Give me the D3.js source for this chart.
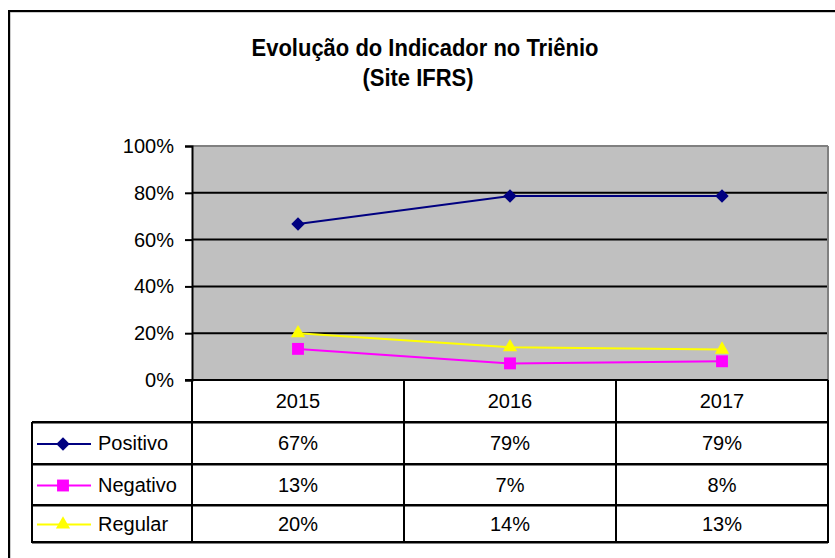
<!DOCTYPE html>
<html>
<head>
<meta charset="utf-8">
<script src="https://cdn.jsdelivr.net/npm/d3@7"></script>
<style>
  html, body { margin: 0; padding: 0; background: #fff; }
  svg { display: block; }
  text { font-family: "Liberation Sans", Arial, sans-serif; fill: #000; }
</style>
</head>
<body>
<svg id="chart" width="835" height="558"></svg>
<script>
// ---- data ----
const titleLines = ["Evolução do Indicador no Triênio", "(Site IFRS)"];
const years = ["2015", "2016", "2017"];
const seriesNames = ["Positivo", "Negativo", "Regular"];
const positivo = [0.667, 0.786, 0.786];
const negativo = [0.133, 0.071, 0.08];
const regular = [0.20, 0.14, 0.13];
const yTicks = [0, 0.2, 0.4, 0.6, 0.8, 1.0];

// ---- styles per series ----
const seriesColors = ["#000080", "#ff00ff", "#ffff00"];
const seriesSymbols = [d3.symbolDiamond2, d3.symbolSquare2, d3.symbolTriangle2];
const seriesSizes = [115, 180, 145];
const seriesData = [positivo, negativo, regular];

const svg = d3.select("#chart");

// layout
const plot = { left: 192, right: 828, top: 146, bottom: 380 };
const tableLeft = 32;
const rowEdges = [380, 422, 464, 505, 542];

const x = d3.scaleBand().domain(years).range([plot.left, plot.right]);
const y = d3.scaleLinear().domain([0, 1]).range([plot.bottom, plot.top]);
const fmt = d3.format(".0%");

// outer chart border (right/bottom lie outside the visible window)
svg.append("rect").attr("x", 10).attr("y", 12).attr("width", 900).attr("height", 600)
  .attr("fill", "none").attr("stroke", "#999").attr("stroke-width", 1);
svg.append("rect").attr("x", 9).attr("y", 11).attr("width", 900).attr("height", 600)
  .attr("fill", "none").attr("stroke", "#000").attr("stroke-width", 2);

// title
titleLines.forEach((t, i) => {
  const cx = i === 0 ? 425 : 418;
  const by = i === 0 ? 56 : 86;
  svg.append("text")
    .attr("transform", `translate(${cx},${by}) scale(1,1.12)`)
    .attr("text-anchor", "middle")
    .attr("font-size", 22)
    .attr("font-weight", "bold")
    .text(t);
});

// plot background
svg.append("rect")
  .attr("x", plot.left).attr("y", plot.top)
  .attr("width", plot.right - plot.left).attr("height", plot.bottom - plot.top)
  .attr("fill", "#c0c0c0");

// gridlines
svg.append("g").selectAll("line").data(yTicks.filter(d => d > 0 && d < 1)).join("line")
  .attr("x1", plot.left).attr("x2", plot.right)
  .attr("y1", d => y(d)).attr("y2", d => y(d))
  .attr("stroke", "#000").attr("stroke-width", 2);

// plot frame top & right (gray)
svg.append("line").attr("x1", plot.left).attr("x2", plot.right)
  .attr("y1", plot.top).attr("y2", plot.top).attr("stroke", "#808080").attr("stroke-width", 2);
svg.append("line").attr("x1", plot.right).attr("x2", plot.right)
  .attr("y1", plot.top).attr("y2", plot.bottom).attr("stroke", "#808080").attr("stroke-width", 2);

// y axis
const yAxis = d3.axisLeft(y).tickValues(yTicks).tickFormat(fmt).tickSize(7).tickPadding(11);
const gy = svg.append("g").attr("transform", `translate(${plot.left},0)`).call(yAxis);
gy.select(".domain").attr("stroke", "#000").attr("stroke-width", 2);
gy.selectAll(".tick line").attr("stroke", "#000").attr("stroke-width", 2);
gy.selectAll(".tick text").attr("font-size", 20)
  .attr("font-family", "'Liberation Sans', Arial, sans-serif").attr("fill", "#000");

// series lines and markers
const line = d3.line().x((d, i) => x(years[i]) + x.bandwidth() / 2).y(d => y(d));
seriesData.forEach((vals, s) => {
  svg.append("path").datum(vals).attr("d", line)
    .attr("fill", "none").attr("stroke", seriesColors[s]).attr("stroke-width", 2);
});
seriesData.forEach((vals, s) => {
  svg.append("g").selectAll("path").data(vals).join("path")
    .attr("transform", (d, i) => `translate(${x(years[i]) + x.bandwidth() / 2},${y(d)})`)
    .attr("d", d3.symbol().type(seriesSymbols[s]).size(seriesSizes[s]))
    .attr("fill", seriesColors[s]).attr("stroke", "none");
});

// x axis line (0%)
svg.append("line").attr("x1", plot.left - 7).attr("x2", plot.right)
  .attr("y1", plot.bottom).attr("y2", plot.bottom).attr("stroke", "#000").attr("stroke-width", 2);

// ---- data table ----
const tg = svg.append("g");
rowEdges.slice(1).forEach(ry => {
  tg.append("line").attr("x1", tableLeft).attr("x2", plot.right)
    .attr("y1", ry + 1.5).attr("y2", ry + 1.5).attr("stroke", "#808080").attr("stroke-width", 1);
  tg.append("line").attr("x1", tableLeft).attr("x2", plot.right)
    .attr("y1", ry).attr("y2", ry).attr("stroke", "#000").attr("stroke-width", 2);
});
x.domain().forEach(yr => {
  tg.append("line").attr("x1", x(yr)).attr("x2", x(yr))
    .attr("y1", rowEdges[0]).attr("y2", rowEdges[4]).attr("stroke", "#000").attr("stroke-width", 2);
});
tg.append("line").attr("x1", plot.right).attr("x2", plot.right)
  .attr("y1", rowEdges[0]).attr("y2", rowEdges[4] + 1).attr("stroke", "#000").attr("stroke-width", 2);
tg.append("line").attr("x1", tableLeft).attr("x2", tableLeft)
  .attr("y1", rowEdges[1]).attr("y2", rowEdges[4] + 1).attr("stroke", "#000").attr("stroke-width", 2);

// year headers
tg.selectAll("text.yr").data(years).join("text")
  .attr("x", d => x(d) + x.bandwidth() / 2)
  .attr("y", (rowEdges[0] + rowEdges[1]) / 2)
  .attr("dy", "0.36em").attr("text-anchor", "middle").attr("font-size", 20)
  .text(d => d);

// rows
seriesNames.forEach((name, s) => {
  const cy = (rowEdges[s + 1] + rowEdges[s + 2]) / 2;
  tg.append("line").attr("x1", 37).attr("x2", 91).attr("y1", cy + 1).attr("y2", cy + 1)
    .attr("stroke", seriesColors[s]).attr("stroke-width", 2);
  tg.append("path").attr("transform", `translate(63,${cy + 1})`)
    .attr("d", d3.symbol().type(seriesSymbols[s]).size(seriesSizes[s]))
    .attr("fill", seriesColors[s]);
  tg.append("text").attr("x", 98).attr("y", cy).attr("dy", "0.36em")
    .attr("font-size", 20).text(name);
  tg.append("g").selectAll("text").data(seriesData[s]).join("text")
    .attr("x", (d, i) => x(years[i]) + x.bandwidth() / 2)
    .attr("y", cy).attr("dy", "0.36em").attr("text-anchor", "middle").attr("font-size", 20)
    .text(d => fmt(d));
});
</script>
</body>
</html>
